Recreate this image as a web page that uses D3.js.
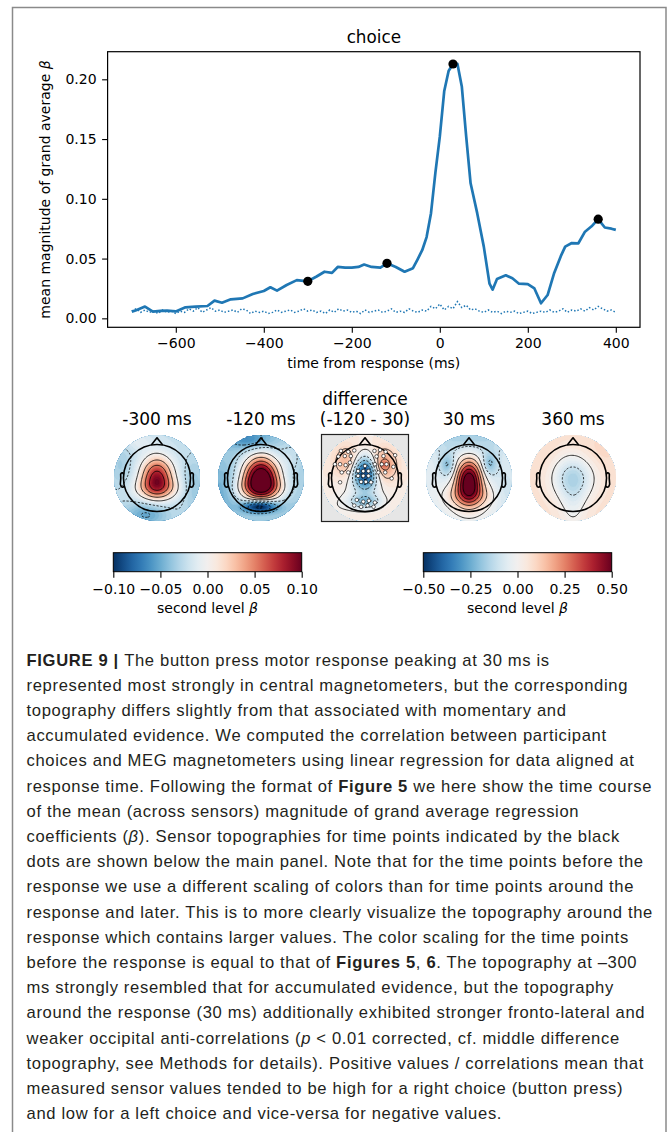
<!DOCTYPE html>
<html>
<head>
<meta charset="utf-8">
<script src="https://cdn.jsdelivr.net/npm/d3@7"></script>
<style>
  body { margin: 0; background: #fff; }
  svg { display: block; }
</style>
</head>
<body>
<svg id="fig" width="667" height="1132"></svg>
<script>
// ---- main panel data ----
const timesMs = [
  -700, -690, -670, -652, -635, -620, -600, -578, -555, -528,
  -512, -495, -475, -448, -425, -400, -385, -370, -348, -325,
  -300, -280, -262, -245, -232, -215, -200, -185, -172, -155,
  -135, -120, -100, -80, -61, -51, -40, -30, -20, -10,
  0, 10, 20, 30, 40, 50, 60, 70, 85, 100,
  113, 120, 130, 150, 165, 180, 200, 215, 230, 245,
  260, 275, 285, 300, 315, 330, 345, 360, 375, 390,
  400
];
const meanBeta = [
  0.0056, 0.0068, 0.0098, 0.0056, 0.0062, 0.0064, 0.0058, 0.0092, 0.0098, 0.0103,
  0.0148, 0.0131, 0.0159, 0.0167, 0.0204, 0.0229, 0.0260, 0.0232, 0.0279, 0.0320,
  0.0310, 0.0350, 0.0390, 0.0380, 0.0430, 0.0425, 0.0425, 0.0430, 0.0450, 0.0430,
  0.0425, 0.0460, 0.0430, 0.0390, 0.0420, 0.0490, 0.0570, 0.0680, 0.0880, 0.1220,
  0.1520, 0.1900, 0.2070, 0.2130, 0.2130, 0.1940, 0.1520, 0.1130, 0.0880, 0.0600,
  0.0290, 0.0240, 0.0330, 0.0360, 0.0335, 0.0290, 0.0287, 0.0250, 0.0126, 0.0195,
  0.0380, 0.0520, 0.0600, 0.0630, 0.0628, 0.0725, 0.0770, 0.0830, 0.0760, 0.0750,
  0.0740
];
// permutation baseline (dotted), every 10 ms from -700 to 400
const nullTimes = d3.range(-700, 401, 10);
const nullBeta = [
  0.006, 0.008, 0.005, 0.007, 0.005, 0.006, 0.004, 0.007, 0.005, 0.006,
  0.004, 0.006, 0.005, 0.008, 0.006, 0.009, 0.005, 0.007, 0.009, 0.006,
  0.007, 0.005, 0.006, 0.007, 0.005, 0.008, 0.007, 0.004, 0.006, 0.005,
  0.006, 0.004, 0.005, 0.007, 0.005, 0.006, 0.007, 0.005, 0.006, 0.008,
  0.006, 0.007, 0.005, 0.006, 0.004, 0.007, 0.005, 0.008, 0.006, 0.007,
  0.005, 0.006, 0.004, 0.007, 0.005, 0.006, 0.007, 0.005, 0.006, 0.008,
  0.005, 0.006, 0.005, 0.008, 0.006, 0.005, 0.007, 0.006, 0.010, 0.008,
  0.012, 0.007, 0.010, 0.008, 0.014, 0.009, 0.011, 0.007, 0.008, 0.006,
  0.005, 0.007, 0.005, 0.006, 0.004, 0.006, 0.005, 0.006, 0.004, 0.005,
  0.006, 0.004, 0.005, 0.006, 0.005, 0.007, 0.005, 0.006, 0.008, 0.005,
  0.007, 0.006, 0.008, 0.006, 0.009, 0.007, 0.010, 0.008, 0.006, 0.007,
  0.005
];
const markerTimes = [-300, -120, 30, 360];
const markerBeta = [0.031, 0.046, 0.2128, 0.083];
const xTicks = [-600, -400, -200, 0, 200, 400];
const yTicks = [0, 0.05, 0.10, 0.15, 0.20];

// ---- topographies: title, colour limit, baseline, blobs [u, v, sx, sy, amp] ----
const topoTitles = [["-300 ms"], ["-120 ms"], ["difference", "(-120 - 30)"], ["30 ms"], ["360 ms"]];
const topoLimit = [0.1, 0.1, 0.5, 0.5, 0.5];
const topoBase = [-0.022, -0.035, 0.04, -0.05, 0.07];
const topoBlobs = [
  [[0, -0.05, 0.25, 0.3, 0.1], [0, 0.25, 0.34, 0.18, 0.045], [-0.25, 0.85, 0.35, 0.2, -0.03],
   [0.85, 0.2, 0.2, 0.45, -0.015], [-0.85, -0.3, 0.2, 0.4, -0.012], [-0.45, -0.85, 0.25, 0.15, 0.012]],
  [[0, -0.02, 0.28, 0.33, 0.16], [0, 0.25, 0.38, 0.18, 0.05], [-0.03, 0.66, 0.26, 0.1, -0.09],
   [-0.3, -0.9, 0.35, 0.15, -0.03], [0.7, -0.5, 0.2, 0.3, 0.012], [-0.9, 0.3, 0.2, 0.4, -0.015]],
  [[-0.42, -0.37, 0.2, 0.25, 0.14], [0.43, -0.3, 0.2, 0.25, 0.2], [0.43, -0.3, 0.07, 0.07, 0.08],
   [0, -0.12, 0.2, 0.26, -0.5], [0, 0.55, 0.25, 0.12, -0.22], [0, 0.3, 0.35, 0.25, -0.06],
   [-0.7, 0.7, 0.3, 0.25, -0.03]],
  [[0, 0.05, 0.2, 0.32, 0.62], [0, 0.42, 0.36, 0.2, 0.22], [-0.5, -0.3, 0.13, 0.19, -0.16],
   [0.48, -0.33, 0.13, 0.19, -0.16], [0, -1.0, 0.8, 0.3, -0.12], [0.85, 0.3, 0.2, 0.4, -0.05],
   [0, 0.9, 0.5, 0.2, 0.03]],
  [[0, -0.02, 0.34, 0.35, -0.2], [0, 0.6, 0.22, 0.45, -0.08], [0.6, -0.6, 0.3, 0.3, 0.025],
   [-0.7, -0.5, 0.25, 0.3, 0.015]]
];
// significant sensors in the difference map (u, v in disk radii)
const diffSensors = [
  [-0.56, -0.63], [-0.39, -0.61], [-0.25, -0.64], [-0.62, -0.50], [-0.47, -0.51], [-0.33, -0.51],
  [-0.70, -0.32], [-0.58, -0.32], [-0.45, -0.30], [-0.35, -0.36], [-0.54, -0.13], [-0.39, -0.13],
  [-0.58, 0.10],
  [0.22, -0.63], [0.35, -0.65], [0.48, -0.61], [0.70, -0.53], [0.27, -0.50], [0.43, -0.51],
  [0.23, -0.32], [0.39, -0.32], [0.50, -0.32], [0.66, -0.26], [0.31, -0.13], [0.47, -0.13],
  [0.62, 0.01],
  [-0.16, -0.16], [-0.04, -0.16], [0.08, -0.16], [-0.16, -0.05], [-0.04, -0.05], [0.08, -0.05],
  [-0.09, 0.09], [0.02, 0.09], [0.14, 0.10], [0.0, -0.28],
  [-0.19, 0.51], [-0.04, 0.55], [0.09, 0.53], [0.23, 0.57], [-0.25, 0.64], [-0.09, 0.67],
  [0.06, 0.64], [0.20, 0.67]
];
const cbarLimits = [0.1, 0.5];
const cbarTicks = [[-0.1, -0.05, 0, 0.05, 0.1], [-0.5, -0.25, 0, 0.25, 0.5]];

// ---- caption lines: [text, style] ----
const captionLines = [
  [["FIGURE 9 | ", "b"], ["The button press motor response peaking at 30 ms is", ""]],
  [["represented most strongly in central magnetometers, but the corresponding", ""]],
  [["topography differs slightly from that associated with momentary and", ""]],
  [["accumulated evidence. We computed the correlation between participant", ""]],
  [["choices and MEG magnetometers using linear regression for data aligned at", ""]],
  [["response time. Following the format of ", ""], ["Figure 5", "b"], [" we here show the time course", ""]],
  [["of the mean (across sensors) magnitude of grand average regression", ""]],
  [["coefficients (", ""], ["β", "i"], ["). Sensor topographies for time points indicated by the black", ""]],
  [["dots are shown below the main panel. Note that for the time points before the", ""]],
  [["response we use a different scaling of colors than for time points around the", ""]],
  [["response and later. This is to more clearly visualize the topography around the", ""]],
  [["response which contains larger values. The color scaling for the time points", ""]],
  [["before the response is equal to that of ", ""], ["Figures 5", "b"], [", ", ""], ["6", "b"], [". The topography at –300", ""]],
  [["ms strongly resembled that for accumulated evidence, but the topography", ""]],
  [["around the response (30 ms) additionally exhibited stronger fronto-lateral and", ""]],
  [["weaker occipital anti-correlations (", ""], ["p", "i"], [" < 0.01 corrected, cf. middle difference", ""]],
  [["topography, see Methods for details). Positive values / correlations mean that", ""]],
  [["measured sensor values tended to be high for a right choice (button press)", ""]],
  [["and low for a left choice and vice-versa for negative values.", ""]]
];

const svg = d3.select('#fig');
const FONT = 'DejaVu Sans, sans-serif';

svg.append('rect').attr('width', 667).attr('height', 1132).attr('fill', '#fff');
svg.append('rect')
    .attr('x', 12.5).attr('y', 7.5).attr('width', 653.5).attr('height', 1200)
    .attr('fill', 'none').attr('stroke', '#8a8a8a').attr('stroke-width', 1.5);

// ================= main time course =================
const box = {left: 107.6, right: 640, top: 51.7, bottom: 327.3};
const x = d3.scaleLinear().domain([-755, 455]).range([box.left, box.right]);
const y = d3.scaleLinear().domain([-0.0075, 0.2231]).range([box.bottom, box.top]);

const gx = svg.append('g')
    .attr('transform', `translate(0,${box.bottom})`)
    .call(d3.axisBottom(x).tickValues(xTicks).tickSize(5.5).tickPadding(4.8));
const gy = svg.append('g')
    .attr('transform', `translate(${box.left},0)`)
    .call(d3.axisLeft(y).tickValues(yTicks).tickFormat(d3.format('.2f')).tickSize(5.5).tickPadding(5.5));
[gx, gy].forEach(g => {
  g.select('.domain').remove();
  g.selectAll('line').attr('stroke', '#000').attr('stroke-width', 1.1);
  g.selectAll('text').attr('font-family', FONT).attr('font-size', 14).attr('fill', '#000');
});

svg.append('path')
    .datum(nullTimes.map((t, i) => [t, nullBeta[i]]))
    .attr('fill', 'none').attr('stroke', '#1f77b4').attr('stroke-width', 1.5)
    .attr('stroke-dasharray', '1.5,2')
    .attr('d', d3.line().x(d => x(d[0])).y(d => y(d[1])));

svg.append('path')
    .datum(timesMs.map((t, i) => [t, meanBeta[i]]))
    .attr('fill', 'none').attr('stroke', '#1f77b4').attr('stroke-width', 2.7)
    .attr('stroke-linejoin', 'round')
    .attr('d', d3.line().x(d => x(d[0])).y(d => y(d[1])));

svg.append('g').selectAll('circle')
    .data(markerTimes)
    .enter()
    .append('circle')
    .attr('cx', d => x(d))
    .attr('cy', (d, i) => y(markerBeta[i]))
    .attr('r', 4.6)
    .attr('fill', '#000');

svg.append('rect')
    .attr('x', box.left).attr('y', box.top)
    .attr('width', box.right - box.left).attr('height', box.bottom - box.top)
    .attr('fill', 'none').attr('stroke', '#000').attr('stroke-width', 1.2);

svg.append('text')
    .attr('x', (box.left + box.right) / 2).attr('y', 43)
    .attr('text-anchor', 'middle').attr('font-family', FONT).attr('font-size', 16.8)
    .text('choice');
svg.append('text')
    .attr('x', (box.left + box.right) / 2).attr('y', 368)
    .attr('text-anchor', 'middle').attr('font-family', FONT).attr('font-size', 14)
    .text('time from response (ms)');
const ylab = svg.append('text')
    .attr('transform', `translate(50,${(box.top + box.bottom) / 2}) rotate(-90)`)
    .attr('text-anchor', 'middle').attr('font-family', FONT).attr('font-size', 14);
ylab.append('tspan').text('mean magnitude of grand average ');
ylab.append('tspan').attr('font-style', 'italic').text('β');

// ================= topographies =================
const R = 43;                          // disk radius in px
const headR = 0.78 * R;
const topoX = [157, 261, 365, 469, 573];
const topoY = 478;
const N = 81, EXT = 1.1, du = 2 * EXT / (N - 1);

function rdbu(v, vmax) {
  const t = Math.max(-1, Math.min(1, v / vmax));
  return d3.interpolateRdBu(0.5 - 0.5 * t);
}

function fieldAt(k, u, v) {
  let s = topoBase[k];
  for (const [cx, cy, sx, sy, a] of topoBlobs[k]) {
    s += a * Math.exp(-((u - cx) ** 2 / (2 * sx * sx) + (v - cy) ** 2 / (2 * sy * sy)));
  }
  return s;
}

const defs = svg.append('defs');
const earX = [.497, .510, .518, .5299, .5419, .54, .547, .532, .510, .489];
const earY = [.0555, .0775, .0783, .0746, .0555, -.0055, -.0932, -.1313, -.1384, -.1199];

topoTitles.forEach((title, k) => {
  const cx = topoX[k], cy = topoY, vmax = topoLimit[k];
  const g = svg.append('g');

  // titles
  title.forEach((line, j) => {
    g.append('text')
        .attr('x', cx).attr('y', 425 - (title.length - 1 - j) * 20)
        .attr('text-anchor', 'middle').attr('font-family', FONT).attr('font-size', 17)
        .text(line);
  });

  if (k === 2) {
    g.append('rect')
        .attr('x', cx - R - 0.5).attr('y', cy - R - 0.5)
        .attr('width', 2 * R + 1).attr('height', 2 * R + 1)
        .attr('fill', '#e6e6e6').attr('stroke', '#222').attr('stroke-width', 1.2);
  }

  const values = new Array(N * N);
  for (let j = 0; j < N; j++) {
    for (let i = 0; i < N; i++) {
      values[j * N + i] = fieldAt(k, -EXT + i * du, -EXT + j * du);
    }
  }
  const clamped = values.map(v => Math.max(-vmax, Math.min(vmax, v)));

  const proj = d3.geoTransform({
    point(px, py) {
      this.stream.point(cx + R * (-EXT + (px - 0.5) * du), cy + R * (-EXT + (py - 0.5) * du));
    }
  });
  const path = d3.geoPath(proj);

  defs.append('clipPath').attr('id', 'disk' + k)
      .append('circle').attr('cx', cx).attr('cy', cy).attr('r', R);
  const inner = g.append('g').attr('clip-path', `url(#disk${k})`);

  const step = vmax / 24;
  const bandThr = d3.range(-vmax + step, vmax, step);
  inner.append('circle').attr('cx', cx).attr('cy', cy).attr('r', R)
      .attr('fill', rdbu(-vmax + step / 2, vmax));
  inner.selectAll('path.band')
      .data(d3.contours().size([N, N]).thresholds(bandThr)(clamped))
      .enter()
      .append('path')
      .attr('class', 'band')
      .attr('d', path)
      .attr('fill', d => rdbu(d.value + step / 2, vmax))
      .attr('stroke', d => rdbu(d.value + step / 2, vmax))
      .attr('stroke-width', 0.4);

  const lineStep = vmax === 0.1 ? 0.025 : 0.1;
  const levels = d3.range(-vmax, vmax + 1e-9, lineStep).map(v => +v.toFixed(4));
  inner.selectAll('path.iso')
      .data(d3.contours().size([N, N]).thresholds(levels)(values))
      .enter()
      .append('path')
      .attr('class', 'iso')
      .attr('d', path)
      .attr('fill', 'none')
      .attr('stroke', '#000')
      .attr('stroke-width', 0.8)
      .attr('stroke-dasharray', d => d.value < 0 ? '2.2,1.6' : null);

  // head outline
  const head = g.append('g').attr('fill', 'none').attr('stroke', '#000')
      .attr('stroke-width', 1.6).attr('stroke-linejoin', 'round');
  head.append('circle').attr('cx', cx).attr('cy', cy).attr('r', headR);
  head.append('path').attr('d', d3.line()([
    [cx - 0.17 * headR, cy - 0.985 * headR],
    [cx, cy - 1.2 * headR],
    [cx + 0.17 * headR, cy - 0.985 * headR]
  ]));
  [-1, 1].forEach(side => {
    head.append('path').attr('d', d3.line()(earX.map((ex, i) =>
      [cx + side * ex * 2 * headR, cy - earY[i] * 2 * headR])));
  });

  if (k === 2) {
    g.append('g').selectAll('circle')
        .data(diffSensors)
        .enter()
        .append('circle')
        .attr('cx', d => cx + d[0] * R)
        .attr('cy', d => cy + d[1] * R)
        .attr('r', 1.8)
        .attr('fill', '#fff').attr('stroke', '#000').attr('stroke-width', 0.6);
  }
});

// ================= colour bars =================
const cbarX = [[113.3, 301.7], [423.3, 611.7]];
const cbarTop = 552.7, cbarH = 19;
cbarLimits.forEach((vmax, k) => {
  const grad = defs.append('linearGradient').attr('id', 'cbar' + k);
  d3.range(0, 1.0001, 0.05).forEach(t => {
    grad.append('stop').attr('offset', t).attr('stop-color', rdbu(-vmax + 2 * vmax * t, vmax));
  });
  const s = d3.scaleLinear().domain([-vmax, vmax]).range(cbarX[k]);
  svg.append('rect')
      .attr('x', cbarX[k][0]).attr('y', cbarTop)
      .attr('width', cbarX[k][1] - cbarX[k][0]).attr('height', cbarH)
      .attr('fill', `url(#cbar${k})`).attr('stroke', '#000').attr('stroke-width', 1);
  const ax = svg.append('g')
      .attr('transform', `translate(0,${cbarTop + cbarH})`)
      .call(d3.axisBottom(s).tickValues(cbarTicks[k]).tickFormat(d3.format('.2f')).tickSize(6).tickPadding(6.5));
  ax.select('.domain').remove();
  ax.selectAll('line').attr('stroke', '#000').attr('stroke-width', 1.1);
  ax.selectAll('text').attr('font-family', FONT).attr('font-size', 14).attr('fill', '#000');
  const lab = svg.append('text')
      .attr('x', (cbarX[k][0] + cbarX[k][1]) / 2).attr('y', 613)
      .attr('text-anchor', 'middle').attr('font-family', FONT).attr('font-size', 14);
  lab.append('tspan').text('second level ');
  lab.append('tspan').attr('font-style', 'italic').text('β');
});

// ================= caption =================
const cap = svg.append('g')
    .attr('font-family', '"Liberation Sans", Arial, sans-serif')
    .attr('font-size', 16.6).attr('fill', '#231f20');
const capLines = captionLines.map((segs, i) => {
  const t = cap.append('text').attr('x', 26.5).attr('y', 665.5 + i * 25.2);
  segs.forEach(([txt, st]) => {
    const sp = t.append('tspan').text(txt);
    if (st === 'b') sp.attr('font-weight', 700);
    if (st === 'i') sp.attr('font-style', 'italic');
  });
  return t;
});
// adjust letter spacing so the reference line width is matched
const refLine = capLines[5];
const natural = refLine.node().getComputedTextLength();
const nChars = refLine.text().length;
const spacing = (625 - natural) / (nChars - 1);
capLines.forEach(t => t.attr('letter-spacing', spacing.toFixed(3)));
</script>
</body>
</html>
